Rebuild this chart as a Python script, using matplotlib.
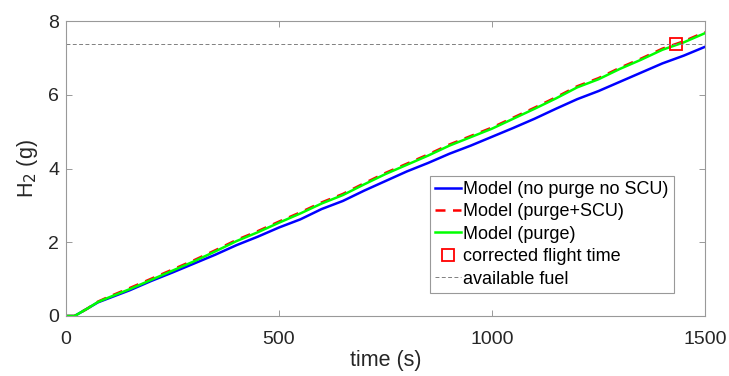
import matplotlib
matplotlib.use("Agg")
import matplotlib.pyplot as plt

plt.rcParams['font.family'] = ['Liberation Sans', 'DejaVu Sans']
plt.rcParams['mathtext.fontset'] = 'custom'
plt.rcParams['mathtext.rm'] = 'Liberation Sans'
plt.rcParams['mathtext.it'] = 'Liberation Sans'

time_s = [0, 20, 50, 75, 100, 150, 200, 250, 300, 350, 400, 450, 500, 550, 600, 650,
          700, 750, 800, 850, 900, 950, 1000, 1050, 1100, 1150, 1200, 1250, 1300,
          1350, 1400, 1450, 1500]
h2_no_purge = [0, 0.0, 0.2, 0.37, 0.48, 0.70, 0.95, 1.18, 1.42, 1.66, 1.92, 2.15, 2.40,
               2.62, 2.90, 3.12, 3.40, 3.66, 3.92, 4.15, 4.40, 4.62, 4.86, 5.10, 5.35,
               5.62, 5.88, 6.10, 6.35, 6.60, 6.85, 7.06, 7.30]
h2_purge_scu = [0, 0.0, 0.2, 0.39, 0.52, 0.76, 1.01, 1.26, 1.51, 1.78, 2.06, 2.30, 2.56,
                2.81, 3.08, 3.31, 3.60, 3.88, 4.13, 4.38, 4.65, 4.88, 5.11, 5.38, 5.65,
                5.93, 6.23, 6.45, 6.73, 6.98, 7.25, 7.45, 7.70]
h2_purge = [0, 0.0, 0.2, 0.38, 0.50, 0.73, 0.98, 1.23, 1.48, 1.75, 2.03, 2.27, 2.53,
            2.78, 3.05, 3.28, 3.57, 3.85, 4.10, 4.35, 4.62, 4.85, 5.08, 5.35, 5.62,
            5.90, 6.20, 6.42, 6.70, 6.95, 7.22, 7.42, 7.67]
flight_time = [1432]
available_fuel = 7.37

fig = plt.figure(figsize=(7.29, 3.76), dpi=100)
ax = fig.add_axes([66/729, 60/376, 639/729, 295/376])

ax.plot(time_s, h2_no_purge, color='#0000ff', lw=1.8, label='Model (no purge no SCU)')
ax.plot(time_s, h2_purge_scu, color='#ff0000', lw=1.8, ls=(0, (4, 3)), label='Model (purge+SCU)')
ax.plot(time_s, h2_purge, color='#00ff00', lw=1.8, label='Model (purge)')
ax.plot(flight_time, [available_fuel], ls='none', marker='s', ms=8, mfc='none',
        mec='#ff0000', mew=1.3, label='corrected flight time')
ax.axhline(available_fuel, color='#808080', lw=0.7, ls=(0, (4, 2.5)), label='available fuel')

ax.set_xlim(0, 1500)
ax.set_ylim(0, 8)
ax.set_xticks([0, 500, 1000, 1500])
ax.set_yticks([0, 2, 4, 6, 8])
ax.tick_params(direction='in', top=True, right=True, length=4, width=0.7,
               color='#999999', labelcolor='#262626', labelsize=14, pad=5)
ax.tick_params(axis='x', pad=11)
for s in ax.spines.values():
    s.set_color('#999999')
    s.set_linewidth(0.8)
ax.set_xlabel('time (s)', fontsize=15.5, color='#262626', labelpad=1)
ax.set_ylabel('H$_{\\mathsf{2}}$ (g)', fontsize=15.5, color='#262626', labelpad=6)

leg = ax.legend(loc='lower right', bbox_to_anchor=((674-66)/639, (316-293)/295),
                fontsize=13, frameon=True, fancybox=False, handlelength=1.4,
                handletextpad=0.15, borderpad=0.3, labelspacing=0.3, borderaxespad=0)
leg.get_frame().set_edgecolor('#999999')
leg.get_frame().set_linewidth(0.8)
leg.get_frame().set_alpha(1)

fig.savefig('out.png', dpi=100)
